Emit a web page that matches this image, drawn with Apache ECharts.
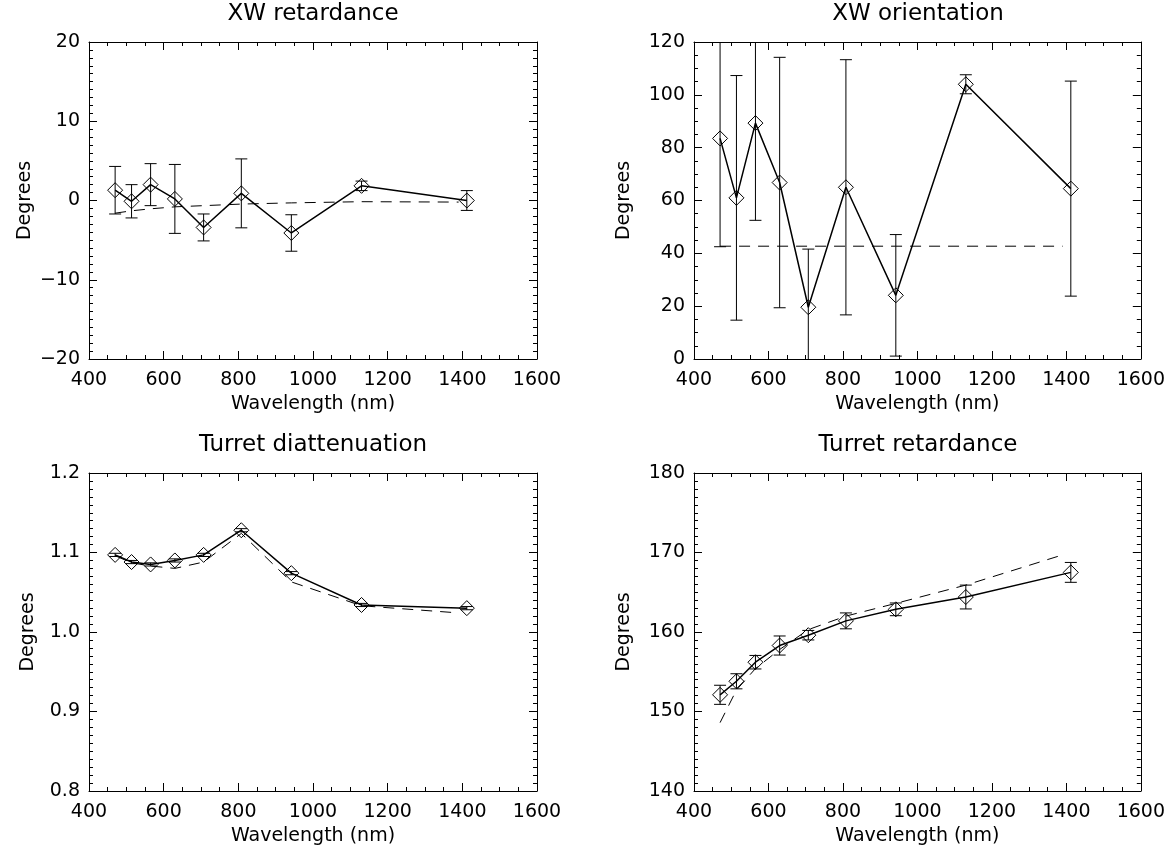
<!DOCTYPE html>
<html>
<head>
<meta charset="utf-8">
<script src="https://cdn.jsdelivr.net/npm/echarts@6/dist/echarts.min.js"></script>
<style>
  html, body { margin: 0; padding: 0; background: #fff; }
  #chart { width: 1168px; height: 850px; }
</style>
</head>
<body>
<div id="chart"></div>
<script>
// measured wavelengths (nm) and wavelengths of the model curve
const wavelengths = [470, 514, 565, 630, 707, 808, 942, 1130, 1412];
const modelWavelengths = [470, 514, 565, 630, 707, 808, 942, 1130, 1390];

// XW retardance
const xwRet = [1.3, -0.1, 2.0, 0.2, -3.4, 0.9, -4.1, 1.85, 0.0];
const xwRetErr = [3.0, 2.1, 2.65, 4.35, 1.7, 4.35, 2.3, 0.6, 1.25];
const xwRetModel = [-1.6, -1.3, -1.05, -0.8, -0.65, -0.45, -0.3, -0.15, -0.2];

// XW orientation
const xwOri = [83.5, 61, 89.3, 66.8, 19.6, 65, 24.1, 104, 64.5];
const xwOriErr = [41, 46.3, 36.8, 47.4, 22, 48.3, 23, 3.6, 40.7];
const xwOriModel = [42.7, 42.7, 42.7, 42.7, 42.7, 42.7, 42.7, 42.7, 42.7];

// Turret diattenuation
const turDia = [1.097, 1.088, 1.085, 1.090, 1.097, 1.128, 1.074, 1.034, 1.030];
const turDiaErr = [0.002, 0.002, 0.002, 0.002, 0.002, 0.002, 0.002, 0.002, 0.002];
const turDiaModel = [1.096, 1.087, 1.083, 1.080, 1.088, 1.124, 1.063, 1.033, 1.024];

// Turret retardance
const turRet = [152.1, 153.8, 156.2, 158.3, 159.6, 161.4, 162.85, 164.4, 167.5];
const turRetErr = [1.2, 0.95, 0.85, 1.2, 0.6, 1.0, 0.8, 1.5, 1.25];
const turRetModel = [148.6, 152.7, 155.4, 157.8, 160.3, 162.0, 163.6, 165.9, 169.7];

const titles = ["XW retardance", "XW orientation", "Turret diattenuation", "Turret retardance"];
// min, max, interval, minor splits
const yRanges = [[-20, 20, 10, 10], [0, 120, 20, 4], [0.8, 1.2, 0.1, 10], [140, 180, 10, 10]];

const FONT = "DejaVu Sans";
const panels = [
  { left: 89, top: 42, nameGap: 54, v: xwRet, e: xwRetErr, m: xwRetModel },
  { left: 694, top: 42, nameGap: 60, v: xwOri, e: xwOriErr, m: xwOriModel },
  { left: 89, top: 473, nameGap: 51, v: turDia, e: turDiaErr, m: turDiaModel },
  { left: 694, top: 473, nameGap: 60, v: turRet, e: turRetErr, m: turRetModel }
];

const diamond = "path://M7,0 L14,7 L7,14 L0,7 Z";

function renderErr(params, api) {
  const x = api.value(0);
  const p1 = api.coord([x, api.value(1)]);
  const p2 = api.coord([x, api.value(2)]);
  const w = 6;
  const st = { stroke: "#000", lineWidth: 1 };
  return {
    type: "group",
    children: [
      { type: "line", shape: { x1: p1[0], y1: p1[1], x2: p2[0], y2: p2[1] }, style: st },
      { type: "line", shape: { x1: p1[0] - w, y1: p1[1], x2: p1[0] + w, y2: p1[1] }, style: st },
      { type: "line", shape: { x1: p2[0] - w, y1: p2[1], x2: p2[0] + w, y2: p2[1] }, style: st }
    ]
  };
}

const grid = [], xAxis = [], yAxis = [], series = [], title = [];

panels.forEach((p, i) => {
  grid.push({ left: p.left, top: p.top, width: 448, height: i < 2 ? 317 : 318 });
  title.push({
    text: titles[i],
    left: p.left + 224,
    top: i < 2 ? 3 : 434,
    textAlign: "center",
    padding: 0,
    textStyle: { fontFamily: FONT, fontSize: 23, fontWeight: "normal", color: "#000" }
  });
  const tick = { show: true, inside: true, length: 8, lineStyle: { color: "#000", width: 1 } };
  const minorX = { show: true, splitNumber: 4, length: 4, lineStyle: { color: "#000", width: 1 } };
  const line = { show: true, onZero: false, lineStyle: { color: "#000", width: 1 } };
  const lbl = { fontFamily: FONT, fontSize: 19, color: "#000" };
  // bottom and top x axes
  xAxis.push({
    gridIndex: i, type: "value", position: "bottom", min: 400, max: 1600, interval: 200,
    axisLine: line, axisTick: tick, minorTick: minorX, splitLine: { show: false },
    axisLabel: Object.assign({ margin: 12, formatter: (v) => String(v) }, lbl),
    name: "Wavelength (nm)", nameLocation: "middle", nameGap: 36,
    nameTextStyle: { fontFamily: FONT, fontSize: 19, color: "#000" }
  });
  xAxis.push({
    gridIndex: i, type: "value", position: "top", min: 400, max: 1600, interval: 200,
    axisLine: line, axisTick: tick, minorTick: minorX, splitLine: { show: false },
    axisLabel: { show: false }
  });
  const r = yRanges[i];
  const minorY = { show: true, splitNumber: r[3], length: 4, lineStyle: { color: "#000", width: 1 } };
  const fmt = i === 2 ? (v) => v.toFixed(1) : (v) => String(v).replace("-", "\u2212");
  yAxis.push({
    gridIndex: i, type: "value", position: "left", min: r[0], max: r[1], interval: r[2],
    axisLine: line, axisTick: tick, minorTick: minorY, splitLine: { show: false },
    axisLabel: Object.assign({ margin: 9, formatter: fmt }, lbl),
    name: "Degrees", nameLocation: "middle", nameGap: p.nameGap,
    nameTextStyle: { fontFamily: FONT, fontSize: 19, color: "#000" }
  });
  yAxis.push({
    gridIndex: i, type: "value", position: "right", min: r[0], max: r[1], interval: r[2],
    axisLine: line, axisTick: tick, minorTick: minorY, splitLine: { show: false },
    axisLabel: { show: false }
  });

  const xi = i * 2, yi = i * 2;
  // model curve (dashed)
  series.push({
    type: "line", xAxisIndex: xi, yAxisIndex: yi, symbol: "none", silent: true,
    data: modelWavelengths.map((w, k) => [w, p.m[k]]),
    lineStyle: { color: "#000", width: 1, type: [11, 8] }, z: 2
  });
  // error bars
  series.push({
    type: "custom", xAxisIndex: xi, yAxisIndex: yi, clip: true, silent: true,
    renderItem: renderErr,
    data: wavelengths.map((w, k) => [w, p.v[k] - p.e[k], p.v[k] + p.e[k]]),
    encode: { x: 0, y: [1, 2] }, z: 3
  });
  // measured values
  series.push({
    type: "line", xAxisIndex: xi, yAxisIndex: yi, silent: true,
    data: wavelengths.map((w, k) => [w, p.v[k]]),
    symbol: diamond, symbolSize: 15, showAllSymbol: true,
    lineStyle: { color: "#000", width: 1.5 },
    itemStyle: { color: "rgba(0,0,0,0)", borderColor: "#000", borderWidth: 1 },
    z: 4
  });
});

const chart = echarts.init(document.getElementById("chart"));
chart.setOption({
  animation: false,
  backgroundColor: "#fff",
  title, grid, xAxis, yAxis, series
});
</script>
</body>
</html>
